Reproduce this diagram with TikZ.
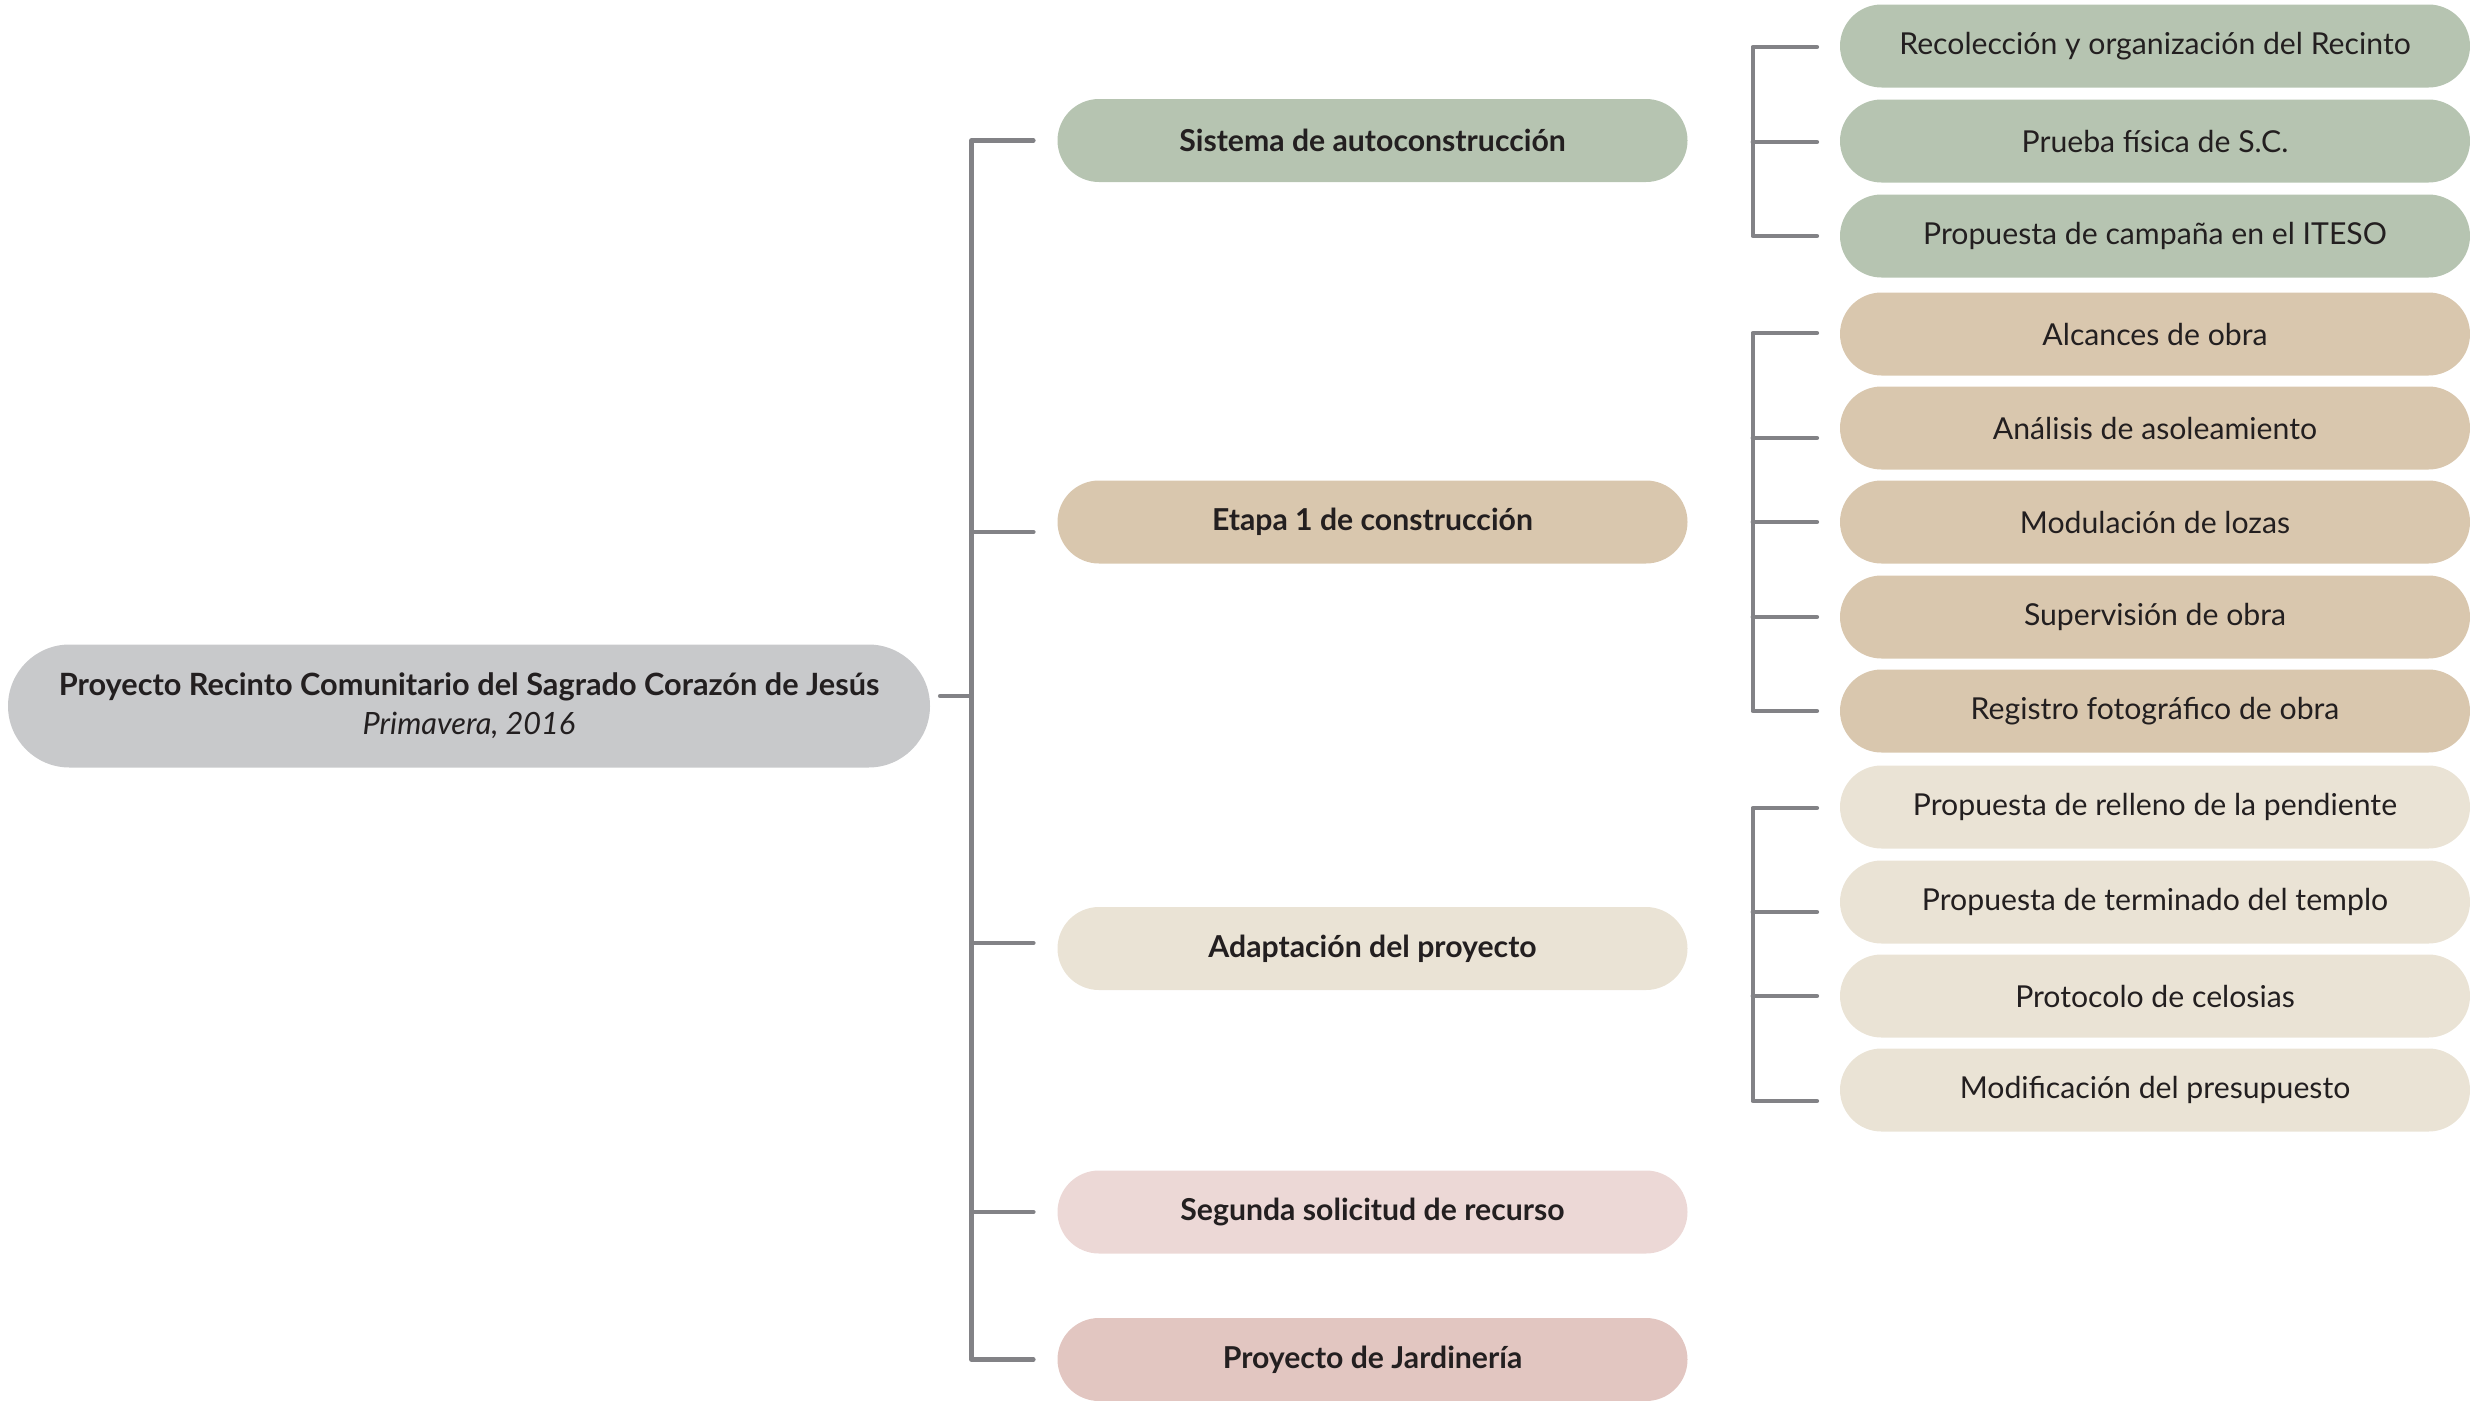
\documentclass[tikz,border=0pt]{standalone}
\usepackage{fontspec}
\setmainfont{Lato}
\usetikzlibrary{calc}
\definecolor{txt}{HTML}{231F20}
\definecolor{linegray}{HTML}{828286}
\definecolor{rootgray}{HTML}{C8C9CB}
\definecolor{sage}{HTML}{B6C4B1}
\definecolor{tan}{HTML}{D9C7AE}
\definecolor{beige}{HTML}{EAE3D5}
\definecolor{pinkl}{HTML}{ECD8D6}
\definecolor{pinkd}{HTML}{E2C6C1}
\begin{document}
\begin{tikzpicture}[x=1pt,y=-1pt,
  pill/.style={shape=rectangle,draw=none,rounded corners=41.5pt,minimum width=630pt,minimum height=83pt,inner sep=0pt,text=txt,font=\fontsize{30.2}{35}\selectfont},
  mainpill/.style={pill,font=\fontsize{30.2}{35}\selectfont\bfseries},
  conn/.style={draw=linegray,line width=4.6pt,line cap=round,line join=round}]
\useasboundingbox (0,0) rectangle (2470,1400);
% root
\node[shape=rectangle,fill=rootgray,rounded corners=61.5pt,minimum width=922pt,minimum height=123pt,inner sep=0pt,text=txt,align=center,font=\fontsize{30.7}{39}\selectfont] (root) at (469,706)
 {{\bfseries Proyecto Recinto Comunitario del Sagrado Corazón de Jesús}\\ \itshape Primavera, 2016};
% level 1
\node[mainpill,fill=sage]  (m1) at (1372.5,140.5) {Sistema de autoconstrucción};
\node[mainpill,fill=tan]   (m2) at (1372.5,522)   {Etapa 1 de construcción};
\node[mainpill,fill=beige] (m3) at (1372.5,948.5) {Adaptación del proyecto};
\node[mainpill,fill=pinkl] (m4) at (1372.5,1212)  {Segunda solicitud de recurso};
\node[mainpill,fill=pinkd] (m5) at (1372.5,1359.5){Proyecto de Jardinería};
% level 2
\node[pill,fill=sage] (a1) at (2155,46)  {Recolección y organización del Recinto};
\node[pill,fill=sage] (a2) at (2155,141) {Prueba física de S.C.};
\node[pill,fill=sage] (a3) at (2155,236) {Propuesta de campaña en el ITESO};
\node[pill,fill=tan] (b1) at (2155,334) {Alcances de obra};
\node[pill,fill=tan] (b2) at (2155,428) {Análisis de asoleamiento};
\node[pill,fill=tan] (b3) at (2155,522) {Modulación de lozas};
\node[pill,fill=tan] (b4) at (2155,617) {Supervisión de obra};
\node[pill,fill=tan] (b5) at (2155,711) {Registro fotográfico de obra};
\node[pill,fill=beige] (c1) at (2155,807)  {Propuesta de relleno de la pendiente};
\node[pill,fill=beige] (c2) at (2155,902)  {Propuesta de terminado del templo};
\node[pill,fill=beige] (c3) at (2155,996)  {Protocolo de celosias};
\node[pill,fill=beige] (c4) at (2155,1090) {Modificación del presupuesto};
% trunk
\draw[conn] ($(root.east)+(10,-10)$) -- ++(31,0);
\draw[conn] ($(m1.west)+(-24,0)$) -- ++(-62,0) |- ($(m5.west)+(-24,0)$);
\draw[conn] ($(m2.west)+(-24,10)$) -- ++(-62,0);
\draw[conn] ($(m3.west)+(-24,-5.5)$) -- ++(-62,0);
\draw[conn] ($(m4.west)+(-24,0)$) -- ++(-62,0);
% group a
\draw[conn] ($(a1.west)+(-23,1)$) -- ++(-64,0) |- ($(a3.west)+(-23,0)$);
\draw[conn] ($(a2.west)+(-23,1)$) -- ++(-64,0);
% group b
\draw[conn] ($(b1.west)+(-23,-1)$) -- ++(-64,0) |- ($(b5.west)+(-23,0)$);
\draw[conn] ($(b2.west)+(-23,10)$) -- ++(-64,0);
\draw[conn] ($(b3.west)+(-23,0)$) -- ++(-64,0);
\draw[conn] ($(b4.west)+(-23,0)$) -- ++(-64,0);
% group c
\draw[conn] ($(c1.west)+(-23,1)$) -- ++(-64,0) |- ($(c4.west)+(-23,11)$);
\draw[conn] ($(c2.west)+(-23,10)$) -- ++(-64,0);
\draw[conn] ($(c3.west)+(-23,0)$) -- ++(-64,0);
\end{tikzpicture}
\end{document}
